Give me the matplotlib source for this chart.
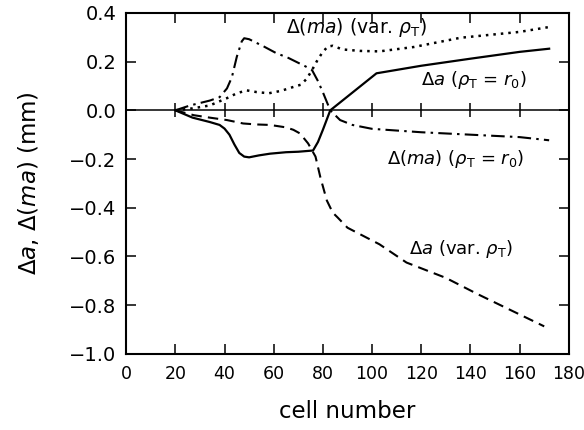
import matplotlib
matplotlib.use("Agg")
import matplotlib.pyplot as plt
import numpy as np

# Δ(ma), var. rho_T  (dash-dot)
dma_var_x = [20, 26, 34, 38, 41, 43, 45, 47, 48, 50, 52, 56, 61, 66, 70, 73, 75.6, 78, 80, 83, 87, 92, 100, 120, 140, 160, 172]
dma_var_y = [0, 0.02, 0.04, 0.054, 0.09, 0.136, 0.22, 0.283, 0.296, 0.292, 0.282, 0.262, 0.235, 0.215, 0.195, 0.18,
             0.165, 0.12, 0.074, 0.0, -0.04, -0.06, -0.076, -0.09, -0.10, -0.11, -0.123]

# dotted curve
dot_x = [20, 27, 34, 41, 45, 49, 53, 58, 63, 68, 71, 73.5, 76, 78, 80, 82, 84, 88, 95, 103, 117, 136, 160, 172]
dot_y = [0, 0.008, 0.02, 0.05, 0.07, 0.082, 0.075, 0.07, 0.08, 0.096, 0.105, 0.13, 0.173, 0.21, 0.24, 0.262,
         0.265, 0.25, 0.244, 0.242, 0.26, 0.298, 0.322, 0.342]

# Δa, rho_T = r_0  (solid)
da_r0_x = [20, 27, 34, 38, 40, 42, 44, 46, 48, 50, 54, 58.5, 65, 70, 76, 78, 80, 83, 101.8, 120, 140, 160, 172]
da_r0_y = [0, -0.03, -0.048, -0.06, -0.075, -0.1, -0.14, -0.175, -0.19, -0.193, -0.185, -0.178, -0.172, -0.17,
           -0.165, -0.13, -0.08, 0.0, 0.152, 0.183, 0.212, 0.24, 0.253]

# Δa, var. rho_T  (dashed)
da_var_x = [20, 27.5, 34, 41, 47.6, 53, 58.5, 65, 68, 70.7, 74, 77, 79, 81.6, 84, 86, 90, 103, 114, 130, 143, 170]
da_var_y = [0, -0.02, -0.03, -0.04, -0.054, -0.058, -0.06, -0.07, -0.08, -0.095, -0.136, -0.19, -0.276, -0.37,
            -0.42, -0.44, -0.482, -0.55, -0.625, -0.688, -0.755, -0.887]

xticks = [0, 20, 40, 60, 80, 100, 120, 140, 160, 180]
yticks = [0.4, 0.2, 0.0, -0.2, -0.4, -0.6, -0.8, -1.0]
zero_marks = [20, 40, 60, 80, 100, 120, 140, 160]

fig = plt.figure(figsize=(5.84, 4.30), dpi=100)
ax = fig.add_axes([0.216, 0.177, 0.758, 0.793])

ax.axhline(0, color="black", lw=1.1)
ax.plot(zero_marks, np.zeros(len(zero_marks)), ls="none", marker="|", ms=10, mew=1.1, color="black")

ax.plot(dma_var_x, dma_var_y, color="black", lw=1.5, dashes=(6.5, 2.5, 1.2, 2.5))
ax.plot(dot_x, dot_y, color="black", lw=1.8, ls=(0, (1, 2)))
ax.plot(da_r0_x, da_r0_y, color="black", lw=1.6)
ax.plot(da_var_x, da_var_y, color="black", lw=1.5, dashes=(5, 3))

fs = 13
ax.text(65, 0.342, r"$\Delta(ma)$ (var. $\rho_{\mathrm{T}}$)", fontsize=13.5, va="center")
ax.text(120, 0.124, r"$\Delta a$ ($\rho_{\mathrm{T}}$ = $r_{\mathrm{0}}$)", fontsize=fs, va="center")
ax.text(106, -0.198, r"$\Delta(ma)$ ($\rho_{\mathrm{T}}$ = $r_{\mathrm{0}}$)", fontsize=fs, va="center")
ax.text(115, -0.57, r"$\Delta a$ (var. $\rho_{\mathrm{T}}$)", fontsize=fs, va="center")

ax.set_xlim(0, 180)
ax.set_ylim(-1.0, 0.4)
ax.set_xticks(xticks)
ax.set_yticks(yticks)
ax.set_yticklabels([f"{v:.1f}".replace("-", "\u2212") for v in yticks])
ax.tick_params(direction="in", length=7, width=1.1, top=True, right=True, labelsize=12.5)
ax.tick_params(axis="y", labelsize=14)
ax.tick_params(axis="x", pad=8)
ax.tick_params(axis="y", pad=7)
for s in ax.spines.values():
    s.set_linewidth(1.5)

ax.set_xlabel("cell number", fontsize=16.5, labelpad=12)
ax.set_ylabel(r"$\Delta a$, $\Delta(ma)$ (mm)", fontsize=16.5, labelpad=20)

fig.savefig("out.png", dpi=100)
